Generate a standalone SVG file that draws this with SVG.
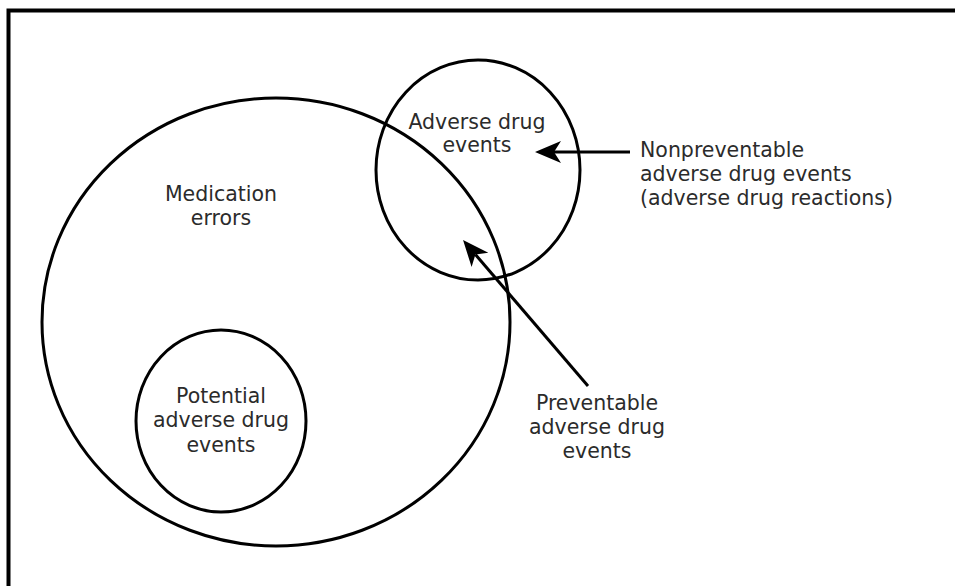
<svg xmlns="http://www.w3.org/2000/svg" width="955" height="586" viewBox="0 0 955 586">
<style>
.shape{fill:none;stroke:#000;stroke-width:3}
.lbl{font-family:"DejaVu Sans",Verdana,sans-serif;font-size:20.5px;fill:#2b2b2b}
.c{text-anchor:middle}
.conn{stroke:#000;stroke-width:3;fill:none}
</style>
<defs>
<marker id="ah" markerUnits="userSpaceOnUse" markerWidth="32" markerHeight="26" viewBox="0 -13 32 26" refX="7" refY="0" orient="auto">
<path d="M0,-11 L26,0 L0,11 L7,0 Z" fill="#000"/>
</marker>
</defs>
<rect width="955" height="586" fill="#fff"/>
<rect x="8.5" y="10.5" width="1200" height="1200" fill="none" stroke="#000" stroke-width="4"/>
<g id="medication-errors">
<ellipse class="shape" cx="276" cy="322" rx="234" ry="224"/>
<text class="lbl c" x="221" y="201">Medication</text>
<text class="lbl c" x="221" y="225">errors</text>
</g>
<g id="potential-ade">
<ellipse class="shape" cx="221" cy="421" rx="85" ry="91"/>
<text class="lbl c" x="221" y="403">Potential</text>
<text class="lbl c" x="221" y="427">adverse drug</text>
<text class="lbl c" x="221" y="452">events</text>
</g>
<g id="ade">
<ellipse class="shape" cx="478" cy="170" rx="102" ry="110"/>
<text class="lbl c" x="477" y="129">Adverse drug</text>
<text class="lbl c" x="477" y="152">events</text>
</g>
<g id="nonpreventable">
<text class="lbl" x="640" y="157">Nonpreventable</text>
<text class="lbl" x="640" y="181">adverse drug events</text>
<text class="lbl" x="640" y="205">(adverse drug reactions)</text>
</g>
<g id="preventable">
<text class="lbl c" x="597" y="410">Preventable</text>
<text class="lbl c" x="597" y="434">adverse drug</text>
<text class="lbl c" x="597" y="458">events</text>
</g>
<g id="connectors">
<line class="conn" x1="630" y1="152" x2="554" y2="152" marker-end="url(#ah)"/>
<line class="conn" x1="588" y1="386" x2="475.4" y2="254.5" marker-end="url(#ah)"/>
</g>
</svg>
